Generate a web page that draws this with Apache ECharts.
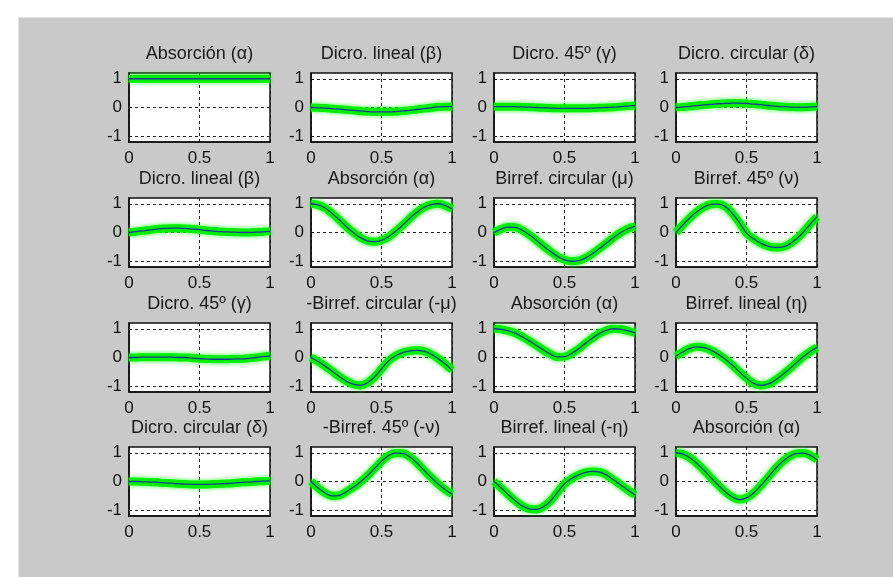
<!DOCTYPE html>
<html>
<head>
<meta charset="utf-8">
<script src="https://cdn.jsdelivr.net/npm/echarts@6/dist/echarts.min.js"></script>
<style>
  html,body{margin:0;padding:0;background:#fff;}
  #fig{position:absolute;left:18px;top:17px;width:875px;height:560px;background:#c9c9c9;border-left:1px solid #e4e4e4;border-top:1px solid #e4e4e4;}
  #main{position:absolute;left:0;top:0;width:893px;height:577px;}
</style>
</head>
<body>
<div id="fig"></div>
<div id="main"></div>
<script>
// x samples shared by all curves
var xs = [0,0.05,0.1,0.15,0.2,0.25,0.3,0.35,0.4,0.45,0.5,0.55,0.6,0.65,0.7,0.75,0.8,0.85,0.9,0.95,1];

var titles = [
  "Absorción (α)", "Dicro. lineal (β)", "Dicro. 45º (γ)", "Dicro. circular (δ)",
  "Dicro. lineal (β)", "Absorción (α)", "Birref. circular (μ)", "Birref. 45º (ν)",
  "Dicro. 45º (γ)", "-Birref. circular (-μ)", "Absorción (α)", "Birref. lineal (η)",
  "Dicro. circular (δ)", "-Birref. 45º (-ν)", "Birref. lineal (-η)", "Absorción (α)"
];

var xTicks = [0, 0.5, 1];
var yTicks = [-1, 0, 1];

// row 1
var m11 = [1,1,1,1,1,1,1,1,1,1,1,1,1,1,1,1,1,1,1,1,1];
var m12 = [0,-0.01,-0.02,-0.04,-0.06,-0.08,-0.1,-0.12,-0.14,-0.15,-0.15,-0.15,-0.14,-0.12,-0.1,-0.07,-0.04,-0.01,0.02,0.03,0.03];
var m13 = [0.03,0.03,0.03,0.03,0.02,0.01,0,-0.01,-0.02,-0.03,-0.03,-0.03,-0.03,-0.03,-0.02,-0.01,0,0.01,0.03,0.05,0.07];
var m14 = [0,0.02,0.04,0.07,0.09,0.11,0.13,0.14,0.15,0.15,0.14,0.12,0.1,0.07,0.05,0.03,0.02,0.01,0.01,0.02,0.03];
// row 2
var m21 = [0,0.03,0.06,0.09,0.12,0.14,0.15,0.15,0.14,0.12,0.1,0.07,0.05,0.03,0.02,0.01,0,0,0.01,0.02,0.04];
var m22 = [1,0.96,0.85,0.66,0.44,0.21,0,-0.18,-0.29,-0.32,-0.27,-0.15,0.04,0.26,0.49,0.7,0.87,0.97,1,0.94,0.82];
var m23 = [0,0.12,0.19,0.18,0.08,-0.08,-0.27,-0.47,-0.66,-0.83,-0.95,-1,-0.98,-0.88,-0.73,-0.55,-0.36,-0.17,0,0.13,0.21];
var m24 = [0,0.27,0.52,0.73,0.89,0.98,0.99,0.9,0.66,0.34,-0.02,-0.22,-0.37,-0.47,-0.52,-0.51,-0.42,-0.24,0,0.28,0.55];
// row 3
var m31 = [0,0,0.01,0.01,0.01,0.01,0.01,0,0,-0.02,-0.04,-0.05,-0.06,-0.06,-0.06,-0.05,-0.05,-0.03,0,0.03,0.05];
var m32 = [0,-0.14,-0.3,-0.48,-0.66,-0.82,-0.93,-0.97,-0.88,-0.68,-0.4,-0.12,0.06,0.17,0.23,0.25,0.22,0.12,-0.03,-0.22,-0.44];
var m33 = [1,0.98,0.93,0.85,0.72,0.58,0.42,0.26,0.12,0.02,0.03,0.14,0.3,0.5,0.68,0.84,0.95,1,0.98,0.93,0.86];
var m34 = [0.05,0.2,0.32,0.37,0.34,0.25,0.11,-0.06,-0.27,-0.5,-0.72,-0.9,-0.97,-0.93,-0.8,-0.62,-0.42,-0.2,0.02,0.2,0.35];
// row 4
var m41 = [0,0,-0.01,-0.02,-0.03,-0.05,-0.06,-0.08,-0.09,-0.1,-0.1,-0.1,-0.09,-0.08,-0.07,-0.05,-0.03,-0.02,0,0.01,0.02];
var m42 = [0,-0.22,-0.4,-0.5,-0.48,-0.36,-0.2,-0.02,0.2,0.45,0.7,0.9,0.99,0.98,0.86,0.65,0.4,0.15,-0.08,-0.28,-0.44];
var m43 = [0,-0.22,-0.45,-0.67,-0.85,-0.95,-0.97,-0.88,-0.68,-0.38,-0.08,0.1,0.23,0.32,0.35,0.33,0.22,0.05,-0.12,-0.3,-0.47];
var m44 = [1,0.95,0.82,0.62,0.38,0.12,-0.13,-0.36,-0.54,-0.63,-0.57,-0.4,-0.15,0.13,0.42,0.67,0.86,0.97,0.99,0.92,0.76];

var curves = [m11,m12,m13,m14,m21,m22,m23,m24,m31,m32,m33,m34,m41,m42,m43,m44];

var colLeft = [129, 311, 494, 676];
var rowTop = [73, 198, 323, 447];
var boxW = 141, boxH = 69;
var font = "Liberation Sans";

var grids = [], xAxes = [], yAxes = [], series = [], tits = [];
for (var i = 0; i < 16; i++) {
  var r = Math.floor(i / 4), c = i % 4;
  grids.push({
    left: colLeft[c], top: rowTop[r], width: boxW, height: boxH,
    show: true, backgroundColor: '#fff', borderColor: '#111', borderWidth: 1.5
  });
  tits.push({
    text: titles[i], left: colLeft[c] + boxW / 2, top: rowTop[r] - 28,
    textAlign: 'center', padding: 0,
    textStyle: {fontFamily: font, fontSize: 18, fontWeight: 'normal', color: '#1a1a1a'}
  });
  xAxes.push({
    type: 'value', gridIndex: i, min: 0, max: 1, interval: 0.5,
    axisLine: {show: true, onZero: false, lineStyle: {color: '#111', width: 1.5}},
    axisTick: {inside: true, length: 3, lineStyle: {color: '#111'}},
    axisLabel: {margin: 8, fontFamily: font, fontSize: 17, color: '#111',
      customValues: xTicks},
    splitLine: {show: true, lineStyle: {color: '#222', type: [3, 3], width: 1}}
  });
  yAxes.push({
    type: 'value', gridIndex: i, min: -1.2, max: 1.2,
    axisLine: {show: true, onZero: false, lineStyle: {color: '#111', width: 1.5}},
    axisTick: {inside: true, length: 3, lineStyle: {color: '#111'}, customValues: yTicks},
    axisLabel: {margin: 7, fontFamily: font, fontSize: 17, color: '#111', customValues: yTicks},
    splitLine: {show: true, lineStyle: {color: '#222', type: [3, 3], width: 1}}
  });
  var pts = [];
  for (var k = 0; k < xs.length; k++) pts.push([xs[k], curves[i][k]]);
  series.push({
    type: 'line', xAxisIndex: i, yAxisIndex: i, data: pts, smooth: 0.4,
    showSymbol: false, silent: true, clip: false, z: 3,
    lineStyle: {color: '#00ee00', width: 8, shadowBlur: 4, shadowColor: '#33ff33'}
  });
  series.push({
    type: 'line', xAxisIndex: i, yAxisIndex: i, data: pts, smooth: 0.4,
    showSymbol: false, silent: true, clip: false, z: 4,
    lineStyle: {color: '#1a3c9a', width: 1.3}
  });
}

var myChart = echarts.init(document.getElementById('main'));
var option = {
  animation: false,
  title: tits,
  grid: grids,
  xAxis: xAxes,
  yAxis: yAxes,
  series: series
};
myChart.setOption(option);
</script>
</body>
</html>
